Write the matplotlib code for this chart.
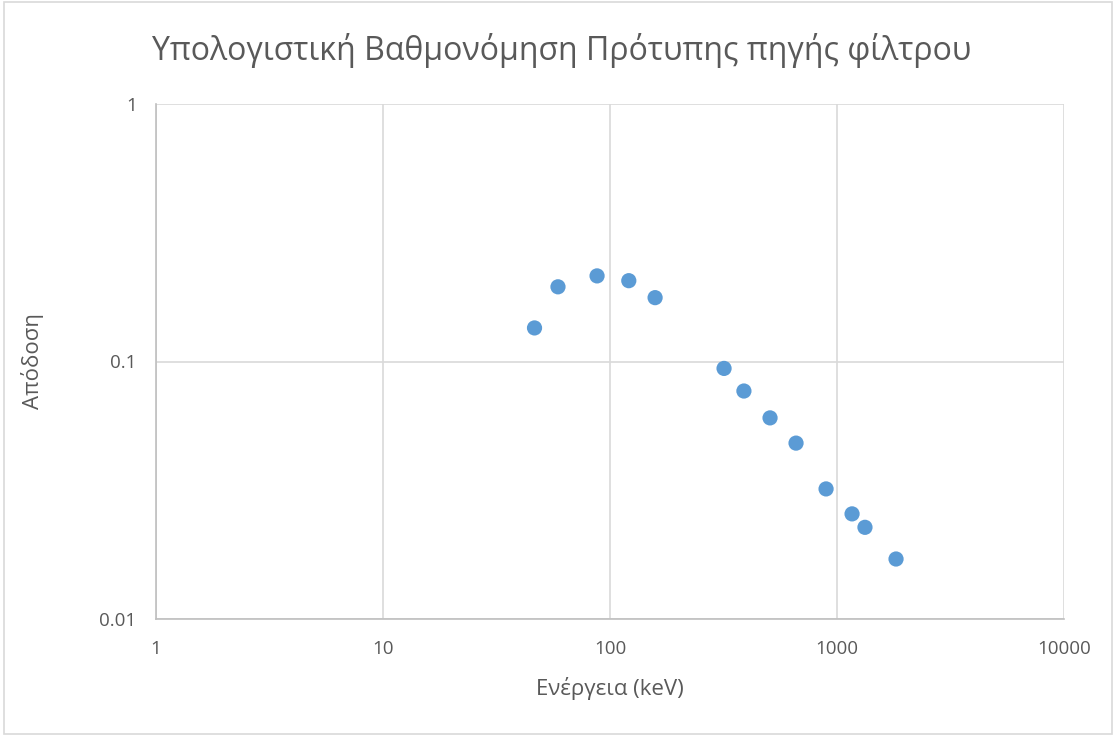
import numpy as np
import matplotlib
matplotlib.use('Agg')
import matplotlib.pyplot as plt
from matplotlib.patches import Rectangle

# energies (keV) and efficiency
energy = [46.5, 59.0, 87.7, 121, 158, 318, 389, 507, 660, 895, 1165, 1328, 1820]
efficiency = [0.135, 0.195, 0.215, 0.206, 0.177, 0.094, 0.0768, 0.0604, 0.0482,
              0.032, 0.0256, 0.0227, 0.0171]

x_ticks = [1, 10, 100, 1000, 10000]
y_ticks = [0.01, 0.1, 1]

TXT = "#595959"
GRID = "#d9d9d9"
plt.rcParams['font.family'] = ['Open Sans', 'DejaVu Sans']

fig = plt.figure(figsize=(11.16, 7.36), dpi=100)
ax = fig.add_axes([156 / 1116, 1 - 619 / 736, (1064 - 156) / 1116, (619 - 104) / 736])

ax.scatter(energy, efficiency, s=120, color="#5b9bd5", edgecolors="none", zorder=3)

ax.set_xscale("log")
ax.set_yscale("log")
ax.set_xlim(1, 10000)
ax.set_ylim(0.01, 1)
ax.set_xticks(x_ticks)
ax.set_xticklabels([str(t) for t in x_ticks])
ax.set_yticks(y_ticks)
ax.set_yticklabels([str(t) for t in y_ticks])
ax.minorticks_off()
ax.tick_params(length=0, labelsize=13.5, colors=TXT, pad=14)
ax.tick_params(axis="x", pad=15)
ax.grid(True, color=GRID, linewidth=1.2)
for side in ["top", "right"]:
    ax.spines[side].set_visible(False)
for side in ["left", "bottom"]:
    ax.spines[side].set_color("#bfbfbf")
    ax.spines[side].set_linewidth(1.2)

fig.text(562 / 1116, 1 - 50 / 736, "Υπολογιστική Βαθμονόμηση Πρότυπης πηγής φίλτρου",
         ha="center", va="center", fontsize=23, color=TXT)
fig.text(610 / 1116, 1 - 689 / 736, "Ενέργεια (keV)", ha="center", va="center",
         fontsize=16, color=TXT)
fig.text(32 / 1116, 1 - 361 / 736, "Απόδοση", ha="center", va="center",
         rotation=90, fontsize=16, color=TXT)

fig.patches.append(Rectangle((0.004, 0.003), 0.992, 0.994, transform=fig.transFigure,
                             fill=False, edgecolor=GRID, linewidth=1.2))

fig.savefig("out.png", dpi=100)
